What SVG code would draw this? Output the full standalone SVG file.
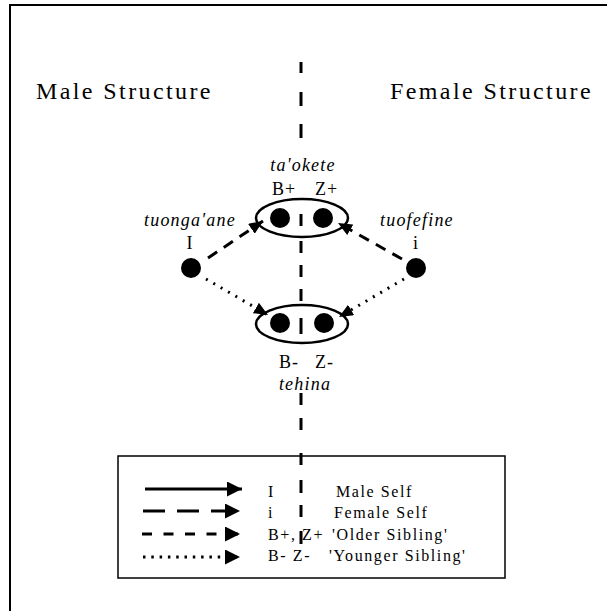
<svg xmlns="http://www.w3.org/2000/svg" width="607" height="611" viewBox="0 0 607 611">
<style>
.t{font-family:"Liberation Serif","Times New Roman",serif;fill:#000}
.h{font-size:24px;letter-spacing:2.4px}
.lab{font-size:18px;letter-spacing:1px}
.it{font-size:18px;font-style:italic;letter-spacing:1.2px}
.lg{font-size:16px;letter-spacing:1.6px}
.ln{fill:none;stroke:#000;stroke-width:3}
.dot{fill:#000}
.ell{fill:none;stroke:#000;stroke-width:2.5}
</style>
<defs>
<marker id="ah" markerUnits="userSpaceOnUse" markerWidth="14" markerHeight="12" refX="14" refY="6" orient="auto" viewBox="0 0 14 12">
<path d="M0,0 L14,6 L0,12 z" fill="#000"/>
</marker>
<marker id="lh" markerUnits="userSpaceOnUse" markerWidth="15" markerHeight="15" refX="15" refY="7.5" orient="auto" viewBox="0 0 15 15">
<path d="M0,0 L15,7.5 L0,15 z" fill="#000"/>
</marker>
</defs>
<g id="frame">
<path d="M10,611 V5 H607" fill="none" stroke="#000" stroke-width="2"/>
</g>
<g id="headings">
<text class="t h" x="36" y="99">Male Structure</text>
<text class="t h" x="390" y="99">Female Structure</text>
</g>
<g id="legend-box">
<rect x="118" y="456" width="387" height="122" fill="#fff" stroke="#000" stroke-width="1.5"/>
</g>
<g id="divider">
<path d="M301,62V73 M301,92V106 M301,124V138 M301,214V226 M301,241V253 M301,265V277 M301,289V301 M301,318V334 M301,393V405 M301,418V430 M301,453V465 M301,480V493 M301,505V517 M301,531V544" fill="none" stroke="#000" stroke-width="3"/>
</g>
<g id="node-older">
<ellipse class="ell" cx="302" cy="218" rx="46" ry="19"/>
<circle class="dot" cx="280" cy="218" r="10"/>
<circle class="dot" cx="323" cy="218" r="10"/>
<text class="t it" x="303" y="171" text-anchor="middle">ta'okete</text>
<text class="t lab" x="272" y="195">B+</text>
<text class="t lab" x="315" y="195">Z+</text>
</g>
<g id="node-younger">
<ellipse class="ell" cx="302" cy="324" rx="46" ry="19"/>
<circle class="dot" cx="280" cy="323" r="10"/>
<circle class="dot" cx="324" cy="323" r="10"/>
<text class="t lab" x="279" y="368">B-</text>
<text class="t lab" x="315" y="368">Z-</text>
<text class="t it" x="305" y="390" text-anchor="middle">tehina</text>
</g>
<g id="node-male-self">
<circle class="dot" cx="191" cy="268" r="10"/>
<text class="t it" x="144" y="226">tuonga'ane</text>
<text class="t lab" x="190" y="249" text-anchor="middle">I</text>
</g>
<g id="node-female-self">
<circle class="dot" cx="416" cy="268" r="10"/>
<text class="t it" x="380" y="226">tuofefine</text>
<text class="t lab" x="416" y="249" text-anchor="middle">i</text>
</g>
<g id="connectors">
<line class="ln" x1="208" y1="258" x2="263" y2="221" stroke-dasharray="11 8" marker-end="url(#ah)"/>
<line class="ln" x1="402" y1="259" x2="338" y2="223" stroke-dasharray="11 8" marker-end="url(#ah)"/>
<line class="ln" x1="206" y1="279" x2="268" y2="315" stroke-width="2.5" stroke-dasharray="2 6.5" marker-end="url(#ah)"/>
<line class="ln" x1="404" y1="279" x2="339" y2="317" stroke-width="2.5" stroke-dasharray="2 6.5" marker-end="url(#ah)"/>
</g>
<g id="legend">
<line class="ln" x1="145" y1="489" x2="242" y2="489" marker-end="url(#lh)"/>
<line class="ln" x1="143" y1="511" x2="240" y2="511" stroke-dasharray="22 12" marker-end="url(#lh)"/>
<line class="ln" x1="142" y1="534" x2="240" y2="534" stroke-dasharray="10 11.5" marker-end="url(#lh)"/>
<line class="ln" x1="143" y1="557" x2="240" y2="557" stroke-width="2.5" stroke-dasharray="2.5 5.8" marker-end="url(#lh)"/>
<text class="t lg" x="268" y="497">I</text>
<text class="t lg" x="336" y="497">Male Self</text>
<text class="t lg" x="268" y="518">i</text>
<text class="t lg" x="334" y="518">Female Self</text>
<text class="t lg" x="268" y="540">B+, Z+</text>
<text class="t lg" x="332" y="540">'Older Sibling'</text>
<text class="t lg" x="268" y="561">B- Z-</text>
<text class="t lg" x="329" y="561">'Younger Sibling'</text>
</g>
</svg>
